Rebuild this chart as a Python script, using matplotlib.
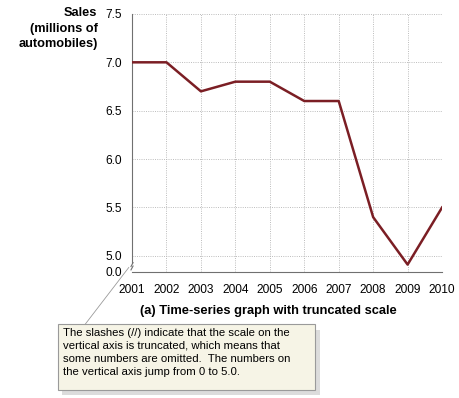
import matplotlib.pyplot as plt
from matplotlib.patches import Rectangle

# data
years = [2001, 2002, 2003, 2004, 2005, 2006, 2007, 2008, 2009, 2010]
sales = [7.0, 7.0, 6.7, 6.8, 6.8, 6.6, 6.6, 5.4, 4.91, 5.5]
ytick_vals = [4.835, 5.0, 5.5, 6.0, 6.5, 7.0, 7.5]
ytick_labels = ["0.0", "5.0", "5.5", "6.0", "6.5", "7.0", "7.5"]

plt.rcParams['font.family'] = ['Liberation Sans', 'DejaVu Sans']

fig = plt.figure(figsize=(4.6, 3.98), dpi=100)
ax = fig.add_axes([0.287, 0.317, 0.674, 0.648])

grid_c = '#b4b4b4'
for yr in years[1:]:
    ax.axvline(yr, color=grid_c, lw=0.6, ls=(0, (1.2, 1.5)), zorder=1)
for v in ytick_vals[1:]:
    ax.axhline(v, color=grid_c, lw=0.6, ls=(0, (1.2, 1.5)), zorder=1)

ax.plot(years, sales, color='#7b1e24', lw=1.8, zorder=3)

ax.set_xlim(2001, 2010)
ax.set_ylim(ytick_vals[0], 7.5)
ax.set_xticks(years)
ax.set_xticklabels([str(y) for y in years], fontsize=8.6)
ax.set_yticks(ytick_vals)
ax.set_yticklabels(ytick_labels, fontsize=8.6)
ax.tick_params(length=0, pad=7)
ax.tick_params(axis='x', pad=9)

for s in ['top', 'right']:
    ax.spines[s].set_visible(False)
ax.spines['left'].set_color('#707070')
ax.spines['bottom'].set_color('#707070')
ax.spines['left'].set_linewidth(0.8)
ax.spines['bottom'].set_linewidth(0.8)
ax.spines['left'].set_bounds(4.93, 7.5)

# break slashes on the vertical axis
for dy in [4.875, 4.91]:
    ax.plot([2000.97, 2001.03], [dy - 0.02, dy + 0.02], color='#707070',
            lw=0.8, clip_on=False, zorder=4)

fig.text(0.212, 0.982, "Sales\n(millions of\nautomobiles)", ha='right', va='top',
         fontsize=9.2, fontweight='bold', linespacing=1.38)

fig.text(0.583, 0.218, "(a) Time-series graph with truncated scale", ha='center',
         va='center', fontsize=9.3, fontweight='bold')

# callout box
shadow = Rectangle((0.135, 0.008), 0.56, 0.163, transform=fig.transFigure,
                   facecolor='#dcdcdc', edgecolor='none', zorder=1)
box = Rectangle((0.127, 0.02), 0.558, 0.165, transform=fig.transFigure,
                facecolor='#f6f4e6', edgecolor='#9a9a9a', lw=0.8, zorder=2)
fig.add_artist(shadow)
fig.add_artist(box)
fig.add_artist(plt.Line2D([0.28, 0.185], [0.328, 0.185], transform=fig.transFigure,
                          color='#9a9a9a', lw=0.6))
fig.text(0.137, 0.176,
         "The slashes (//) indicate that the scale on the\n"
         "vertical axis is truncated, which means that\n"
         "some numbers are omitted.  The numbers on\n"
         "the vertical axis jump from 0 to 5.0.",
         ha='left', va='top', fontsize=8.2, linespacing=1.38, zorder=3)

fig.savefig('out.png', dpi=100)
